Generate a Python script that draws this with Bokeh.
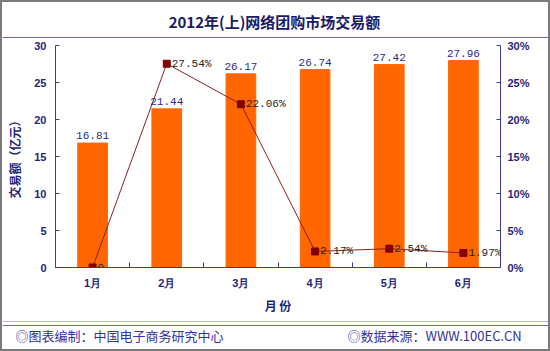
from bokeh.plotting import figure
from bokeh.layouts import column
from bokeh.models import (ColumnDataSource, Range1d, LinearAxis, FixedTicker,
                          LabelSet, Label, BoxAnnotation)
from bokeh.embed import file_html
from bokeh.resources import INLINE
from bokeh.core.properties import value

# ---- data ----
months = ["1月", "2月", "3月", "4月", "5月", "6月"]
sales = [16.81, 21.44, 26.17, 26.74, 27.42, 27.96]          # 亿元
growth = [0.0, 27.54, 22.06, 2.17, 2.54, 1.97]               # %
growth_labels = ["0", "27.54%", "22.06%", "2.17%", "2.54%", "1.97%"]
left_ticks = [0, 5, 10, 15, 20, 25, 30]
right_ticks = [0, 5, 10, 15, 20, 25, 30]
title_text = "2012年(上)网络团购市场交易额"
y_label = "交易额（亿元）"
x_label = "月 份"
footer_left = "◎图表编制：中国电子商务研究中心"
footer_right = "◎数据来源：WWW.100EC.CN"

NAVY = "#1f1f7a"
AXIS = "#3c3c8c"
RULE = "#6a6ab0"
IW = 546            # inner width (inside 2px css border)
TOP_H, MAIN_H, FOOT_H = 36, 283, 28


def no_align(f):
    if "frame_align" in f.properties():
        f.frame_align = False


def deco_fig(h):
    f = figure(width=IW, height=h, x_range=Range1d(0, IW), y_range=Range1d(h, 0),
               output_backend="svg", toolbar_location=None,
               x_axis_type=None, y_axis_type=None,
               min_border_left=0, min_border_right=0,
               min_border_top=0, min_border_bottom=0,
               background_fill_color="white", border_fill_color="white")
    f.outline_line_color = None
    f.grid.visible = False
    no_align(f)
    return f


# ---- top: title ----
top = deco_fig(TOP_H)
top.add_layout(Label(x=272, y=19, text=title_text, text_align="center",
                     text_baseline="middle", text_font="Noto Sans CJK SC",
                     text_font_style="bold", text_font_size="15px",
                     text_color="#1a1a66"))
top.add_layout(BoxAnnotation(left=0, right=IW, top=34.5, bottom=35.5,
                             fill_color=RULE, fill_alpha=1, line_color=None))

# ---- main chart ----
xs = list(range(1, len(months) + 1))
src = ColumnDataSource(dict(
    x=xs, sales=sales, sales_txt=[f"{v:.2f}" for v in sales],
    growth=growth, growth_txt=growth_labels,
))

p = figure(width=IW, height=MAIN_H, output_backend="svg", toolbar_location=None,
           x_range=Range1d(0.5, len(months) + 0.5), y_range=Range1d(0, 30),
           min_border_left=53, min_border_right=48,
           min_border_top=7, min_border_bottom=54,
           background_fill_color="white", border_fill_color="white")
no_align(p)
p.outline_line_color = None
p.xgrid.visible = False
p.ygrid.visible = False
p.extra_y_ranges = {"pct": Range1d(0, 30)}

p.vbar(x="x", top="sales", width=0.4, source=src, fill_color="#FF6600",
       line_color="#FF6600")
p.line(x="x", y="growth", source=src, y_range_name="pct",
       line_color="#8B2020", line_width=1)
p.scatter(x="x", y="growth", source=src, y_range_name="pct", marker="square",
          size=7, fill_color="#800000", line_color="#800000")

p.add_layout(LabelSet(x="x", y="sales", text="sales_txt", source=src,
                      text_align="center", text_baseline="bottom", y_offset=4,
                      text_font=value("Liberation Mono"), text_font_size="11px",
                      text_color="#2a2a8a"))
p.add_layout(LabelSet(x="x", y="growth", text="growth_txt", source=src,
                      y_range_name="pct", text_align="left",
                      text_baseline="middle", x_offset=5,
                      text_font=value("Liberation Mono"), text_font_size="11px",
                      text_color="#222222"))


def style_axis(ax):
    ax.axis_line_color = AXIS
    ax.axis_line_width = 1
    ax.major_tick_line_color = AXIS
    ax.major_tick_in = 4
    ax.major_tick_out = 0
    ax.minor_tick_line_color = None
    ax.major_label_text_font = "Liberation Sans"
    ax.major_label_text_font_style = "bold"
    ax.major_label_text_font_size = "11px"
    ax.major_label_text_color = NAVY


ya = p.yaxis[0]
ya.ticker = FixedTicker(ticks=left_ticks)
style_axis(ya)
ya.major_label_standoff = 9
ya.axis_label = y_label
ya.axis_label_text_font = "Noto Sans CJK SC"
ya.axis_label_text_font_style = "bold"
ya.axis_label_text_font_size = "12px"
ya.axis_label_text_color = NAVY
ya.axis_label_standoff = 8

ra = LinearAxis(y_range_name="pct", ticker=FixedTicker(ticks=right_ticks),
                major_label_overrides={t: f"{t}%" for t in right_ticks})
style_axis(ra)
ra.major_label_standoff = 7
p.add_layout(ra, "right")

xa = p.xaxis[0]
xa.ticker = FixedTicker(ticks=xs, minor_ticks=[i + 0.5 for i in xs[:-1]])
xa.major_label_overrides = {i: m for i, m in zip(xs, months)}
style_axis(xa)
xa.major_tick_line_color = None
xa.minor_tick_line_color = AXIS
xa.minor_tick_in = 5
xa.minor_tick_out = 0
xa.major_label_standoff = 9
xa.axis_label = x_label
xa.axis_label_text_font = "Noto Sans CJK SC"
xa.axis_label_text_font_style = "bold"
xa.axis_label_text_font_size = "12px"
xa.axis_label_text_color = NAVY
xa.axis_label_standoff = 5

# ---- footer ----
foot = deco_fig(FOOT_H)
for t in (0, 4):
    foot.add_layout(BoxAnnotation(left=0, right=IW, top=t - 0.5, bottom=t + 0.5,
                                  fill_color=RULE, fill_alpha=1, line_color=None))
foot.add_layout(Label(x=13, y=13.5, text=footer_left, text_align="left",
                      text_baseline="middle", text_font="Noto Sans CJK SC",
                      text_font_size="13px", text_color="#33339a"))
foot.add_layout(Label(x=345, y=13.5, text=footer_right, text_align="left",
                      text_baseline="middle", text_font="Noto Sans CJK SC",
                      text_font_size="13px", text_color="#33339a"))

layout = column(top, p, foot, spacing=0,
                styles={"border": "2px solid #7a7a7a", "background": "white"})

open("out.html", "w").write(file_html(layout, INLINE))
